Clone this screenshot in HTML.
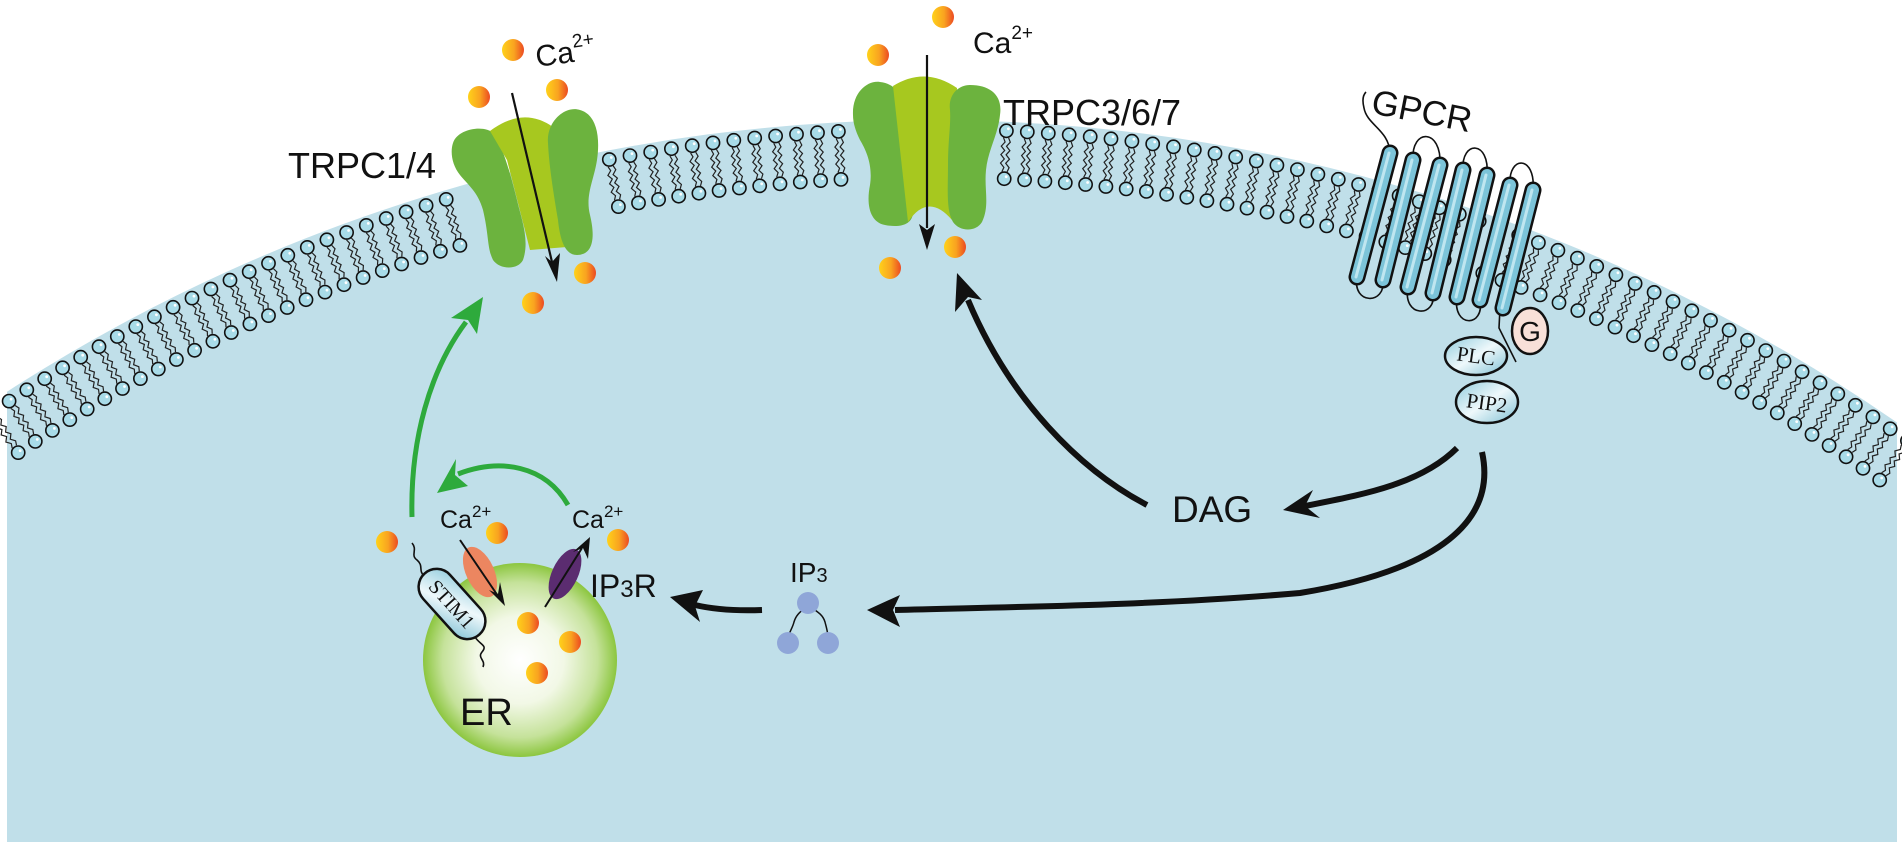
<!DOCTYPE html>
<html><head><meta charset="utf-8"><style>
html,body{margin:0;padding:0;background:#fff;width:1902px;height:842px;overflow:hidden;}
svg{display:block;}
text{font-family:"Liberation Sans",sans-serif;fill:#111;}
.serif{font-family:"Liberation Serif",serif;}
</style></head><body>
<svg id="s" width="1902" height="842" viewBox="0 0 1902 842" xmlns="http://www.w3.org/2000/svg">
<defs>
<linearGradient id="dot" x1="0" y1="0" x2="1" y2="0"><stop offset="0" stop-color="#ffd21a"/><stop offset="0.55" stop-color="#f9a320"/><stop offset="1" stop-color="#ec4a22"/></linearGradient>
<radialGradient id="er" cx="0.5" cy="0.5" r="0.5"><stop offset="0" stop-color="#ffffff"/><stop offset="0.45" stop-color="#f2f8e6"/><stop offset="0.8" stop-color="#c5e29a"/><stop offset="1" stop-color="#8cc63f"/></radialGradient>
<linearGradient id="pl" x1="0" y1="0" x2="1" y2="1"><stop offset="0" stop-color="#8fcbdc"/><stop offset="0.5" stop-color="#eef8fb"/><stop offset="1" stop-color="#7fc0d4"/></linearGradient>
<clipPath id="cp"><rect x="0" y="0" width="1902" height="842"/></clipPath>
</defs>
<path d="M7,842 L7,391.7 A1700,1700 0 0 1 1897,422.5 L1897,842 Z" fill="#c0dfe9"/>
<g id="lip" clip-path="url(#cp)"></g>

<g>
<path d="M453,143 C458,128 485,125 493,133 C503,145 512,180 517,200 C521,218 530,240 523,260 C518,270 500,270 493,260 C487,248 489,235 483,210 C478,192 468,185 460,175 C452,165 450,152 453,143 Z" fill="#6cb33e"/>
<path d="M490,131 Q523,106 553,127 L567,247 L530,250 L507,160 Z" fill="#a7c81f"/>
<path d="M548,143 C546,122 565,105 580,110 C598,115 600,140 597,160 C594,180 585,195 590,215 C596,240 592,255 577,255 C565,255 560,240 558,220 C553,190 549,165 548,143 Z" fill="#6cb33e"/>
</g>
<g>
<path d="M853,115 C852,92 868,80 880,82 C898,84 907,100 908,125 C910,150 910,180 913,210 C914,225 900,228 885,225 C870,222 866,205 870,185 C873,165 866,150 860,140 C855,130 853,122 853,115 Z" fill="#6cb33e"/>
<path d="M893,86 Q925,66 957,88 L952,220 Q928,192 908,222 Z" fill="#a7c81f"/>
<path d="M950,110 C948,95 958,85 970,85 C990,85 1003,95 1000,115 C998,135 988,150 986,170 C984,190 990,205 982,222 C976,232 960,232 953,222 C946,210 948,190 948,165 C948,140 951,125 950,110 Z" fill="#6cb33e"/>
</g>

<g fill="none" stroke="#111" stroke-width="1.6">
<path d="M1413,160 C1411,128 1442,128 1440,165"/>
<path d="M1463,170 C1461,140 1490,140 1487,175"/>
<path d="M1510,185 C1508,155 1536,155 1533,190"/>
<path d="M1357,277 C1352,305 1386,305 1383,280"/>
<path d="M1408,287 C1402,318 1437,318 1433,293"/>
<path d="M1457,297 C1452,328 1485,328 1480,300"/>
<path d="M1390,153 C1389,130 1367,125 1364,108 C1362,100 1363,95 1366,92"/>
<path d="M1500,308 L1499,328 L1516,362"/>
</g>
<g id="hx" stroke-linecap="round"></g>
<ellipse cx="1530" cy="331" rx="18" ry="23" fill="#f8e0d8" stroke="#111" stroke-width="2.5"/>
<text x="1530" y="341" font-size="28" text-anchor="middle">G</text>
<ellipse cx="1476" cy="356" rx="31" ry="19" fill="url(#pl)" stroke="#111" stroke-width="2.5"/>
<text class="serif" x="1476" y="363" font-size="21" text-anchor="middle" transform="rotate(8 1476 356)">PLC</text>
<ellipse cx="1487" cy="402" rx="31" ry="21" fill="url(#pl)" stroke="#111" stroke-width="2.5"/>
<text class="serif" x="1487" y="410" font-size="21" text-anchor="middle" transform="rotate(8 1487 402)">PIP2</text>
<text x="1370" y="113" font-size="35" transform="rotate(11 1370 113)">GPCR</text>

<text x="288" y="178" font-size="36">TRPC1/4</text>
<text x="1003" y="125" font-size="36">TRPC3/6/7</text>
<text x="537" y="67" font-size="30" transform="rotate(-8 537 67)">Ca<tspan font-size="19" dy="-14">2+</tspan></text>
<text x="973" y="53" font-size="30">Ca<tspan font-size="19" dy="-14">2+</tspan></text>
<text x="1172" y="522" font-size="37">DAG</text>

<g stroke="#111" stroke-width="2.2" fill="none">
<line x1="512" y1="93" x2="552" y2="262"/>
<line x1="927" y1="55" x2="927" y2="228"/>
</g>
<polygon points="557,282 545,256 552,262 560,253" fill="#111"/>
<polygon points="927,250 919,224 927,230 935,224" fill="#111"/>

<g stroke="#111" stroke-width="6" fill="none" stroke-linecap="butt">
<path d="M1147,505 C1080,470 1010,400 968,300"/>
<path d="M1457,448 C1420,485 1360,495 1305,506"/>
<path d="M1482,452 C1497,520 1440,570 1300,593 C1150,606 1000,607 895,610"/>
<path d="M762,610 C735,611 712,609 695,605"/>
</g>
<g fill="#111">
<polygon points="957,273 982,300 968,297 955,312"/>
<polygon points="1283,510 1313,490 1305,506 1320,518"/>
<polygon points="867,610 900,595 893,610 900,627"/>
<polygon points="670,597 703,590 695,606 700,622"/>
</g>

<circle cx="520" cy="660" r="97" fill="url(#er)"/>
<text x="460" y="725" font-size="38">ER</text>
<g fill="none" stroke="#111" stroke-width="1.6">
<path d="M412,543 C418,550 410,555 417,560 C424,566 418,570 424,576"/>
<path d="M475,637 C480,645 488,645 482,652 C477,658 486,660 483,667"/>
</g>
<g transform="rotate(48 452 604)">
<rect x="411" y="586" width="82" height="36" rx="18" fill="url(#pl)" stroke="#111" stroke-width="2.5"/>
<text class="serif" x="452" y="611" font-size="20" text-anchor="middle">STIM1</text>
</g>
<ellipse cx="480" cy="572" rx="14" ry="27" fill="#ec8660" transform="rotate(-25 480 572)"/>
<ellipse cx="565" cy="574" rx="13" ry="27" fill="#5b2c70" transform="rotate(25 565 574)"/>
<g stroke="#111" stroke-width="2" fill="none">
<line x1="460" y1="540" x2="498" y2="596"/>
<line x1="545" y1="607" x2="582" y2="548"/>
</g>
<polygon points="505,606 489,590 498,594 500,582" fill="#111"/>
<polygon points="590,537 588,559 583,548 573,552" fill="#111"/>
<text x="440" y="528" font-size="25">Ca<tspan font-size="17" dy="-11">2+</tspan></text>
<text x="572" y="528" font-size="25">Ca<tspan font-size="17" dy="-11">2+</tspan></text>
<text x="590" y="597" font-size="32">IP<tspan font-size="24">3</tspan>R</text>
<text x="790" y="582" font-size="28">IP<tspan font-size="20">3</tspan></text>
<g fill="none" stroke="#111" stroke-width="1.5">
<path d="M808,605 C800,612 796,615 794,622 C792,630 788,632 788,643"/>
<path d="M808,605 C818,612 823,615 825,622 C827,630 828,632 828,643"/>
</g>
<g fill="#8fa6d8"><circle cx="808" cy="603" r="11"/><circle cx="788" cy="643" r="11"/><circle cx="828" cy="643" r="11"/></g>

<g stroke="#2eaa3c" stroke-width="5" fill="none">
<path d="M412,517 C410,440 430,370 466,322"/>
<path d="M568,505 C545,465 500,458 458,474"/>
</g>
<g fill="#2eaa3c">
<polygon points="483,297 477,334 468,320 451,318"/>
<polygon points="437,493 456,459 455,475 468,486"/>
</g>

<g fill="url(#dot)">
<circle cx="513" cy="50" r="11"/><circle cx="479" cy="97" r="11"/><circle cx="557" cy="90" r="11"/>
<circle cx="585" cy="273" r="11"/><circle cx="533" cy="303" r="11"/>
<circle cx="943" cy="17" r="11"/><circle cx="878" cy="55" r="11"/><circle cx="955" cy="247" r="11"/><circle cx="890" cy="268" r="11"/>
<circle cx="387" cy="542" r="11"/><circle cx="497" cy="533" r="11"/><circle cx="618" cy="540" r="11"/>
<circle cx="528" cy="623" r="11"/><circle cx="570" cy="642" r="11"/><circle cx="537" cy="673" r="11"/>
</g>
</svg>
<script>
(function(){
var g=document.getElementById("lip");
var cx=929,cy=1820,R=1691,Ri=1643,d=21/1691;
function pt(r,p,t){return [cx+r*Math.sin(p)+t*Math.cos(p), cy-r*Math.cos(p)+t*Math.sin(p)];}
var html="";
for(var p=-0.6;p<=0.64;p+=d){
  var x0=cx+R*Math.sin(p);
  if(x0<-10||x0>1912) continue;
  if((x0>448&&x0<600)||(x0>850&&x0<1003)) continue;
  [-2.6,2.6].forEach(function(o){
    var s="";
    for(var i=0;i<=8;i++){
      var r=R-7-(R-Ri-14)*i/8;
      var w=(i>0&&i<8)?((i%2)?1.8:-1.8):0;
      var q=pt(r,p,o+w);
      s+=(i?"L":"M")+q[0].toFixed(1)+","+q[1].toFixed(1);
    }
    html+='<path d="'+s+'" fill="none" stroke="#222" stroke-width="1.2"/>';
  });
  [R,Ri].forEach(function(r){
    var q=pt(r,p,0);
    html+='<circle cx="'+q[0].toFixed(1)+'" cy="'+q[1].toFixed(1)+'" r="6.6" fill="#a8dbe8" stroke="#111" stroke-width="1.6"/>';
    html+='<circle cx="'+(q[0]+2).toFixed(1)+'" cy="'+(q[1]-2).toFixed(1)+'" r="1.4" fill="#fff"/>';
  });
}
g.innerHTML=html;
var hx=document.getElementById("hx");
var tops=[[1390,153],[1413,160],[1440,165],[1463,170],[1487,175],[1510,185],[1533,190]];
var bots=[[1357,277],[1383,280],[1408,287],[1433,293],[1457,297],[1480,300],[1503,308]];
var h="";
for(var i=0;i<7;i++){
  h+='<line x1="'+tops[i][0]+'" y1="'+tops[i][1]+'" x2="'+bots[i][0]+'" y2="'+bots[i][1]+'" stroke="#111" stroke-width="17"/>';
  h+='<line x1="'+tops[i][0]+'" y1="'+tops[i][1]+'" x2="'+bots[i][0]+'" y2="'+bots[i][1]+'" stroke="#7cc4d9" stroke-width="12"/>';
  h+='<line x1="'+(tops[i][0]-1)+'" y1="'+tops[i][1]+'" x2="'+(bots[i][0]-1)+'" y2="'+bots[i][1]+'" stroke="#bfe6f0" stroke-width="3"/>';
}
hx.innerHTML=h;
})();
</script>
</body></html>
